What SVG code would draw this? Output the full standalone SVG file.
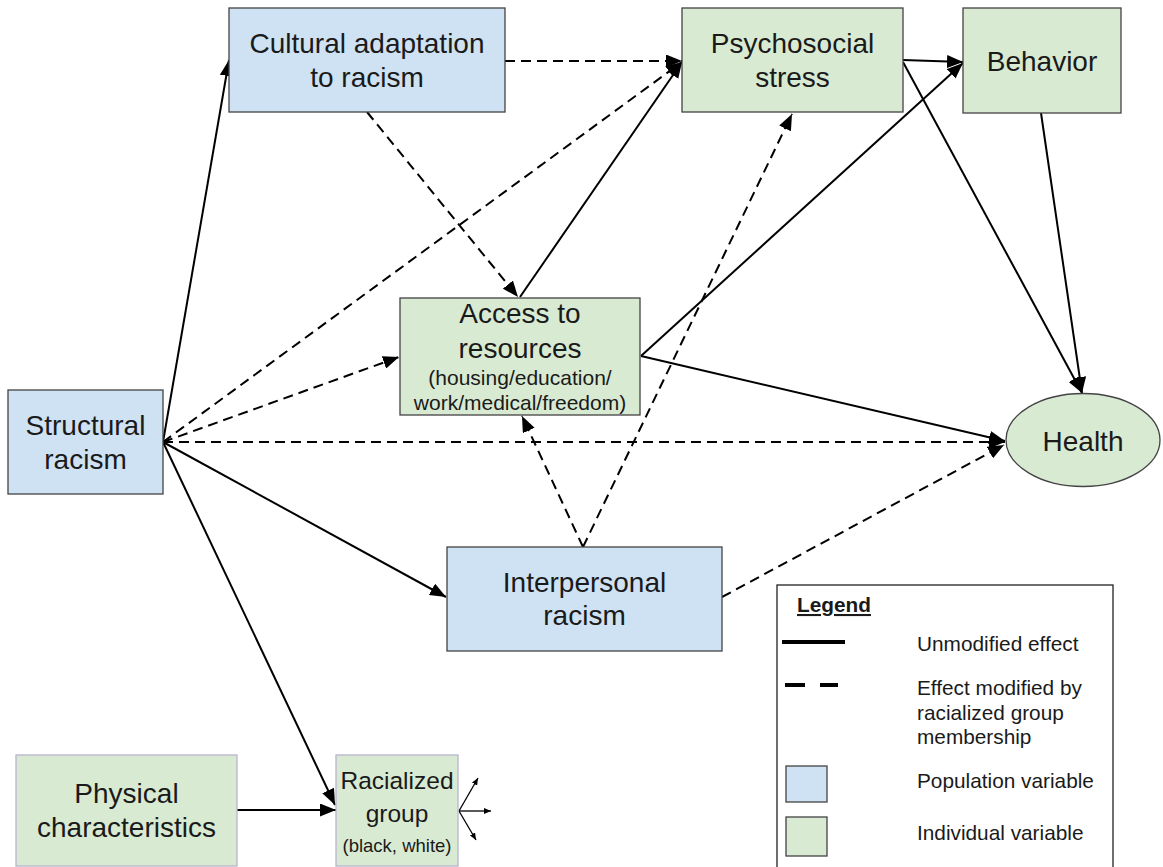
<svg xmlns="http://www.w3.org/2000/svg" width="1163" height="867" viewBox="0 0 1163 867">
<defs>
<style>
.txt{font-family:"Liberation Sans",Arial,sans-serif;fill:#1a1a1a;text-anchor:middle}
.big{font-size:28px}
.sm{font-size:21px}
.leg{font-family:"Liberation Sans",Arial,sans-serif;fill:#1a1a1a;font-size:20.8px}
.blue{fill:#cfe2f3;stroke:#434343;stroke-width:1.3}
.green{fill:#d9ead3;stroke:#434343;stroke-width:1.3}
.green2{fill:#d9ead3;stroke:#b8b4cc;stroke-width:1.3}
.c{stroke:#000;stroke-width:2;fill:none;marker-end:url(#ah)}
.d{stroke-dasharray:10 6}
.s{stroke:#000;stroke-width:1.3;fill:none;marker-end:url(#ahs)}
</style>
<marker id="ah" markerUnits="userSpaceOnUse" markerWidth="16" markerHeight="13" refX="16" refY="6.5" orient="auto">
<path d="M0,0 L16,6.5 L0,13 z" fill="#000"/>
</marker>
<marker id="ahs" markerUnits="userSpaceOnUse" markerWidth="7" markerHeight="6" refX="7" refY="3" orient="auto">
<path d="M0,0 L7,3 L0,6 z" fill="#000"/>
</marker>
</defs>
<rect width="1163" height="867" fill="#fff"/>

<g id="connectors">
<line class="c" x1="163" y1="442" x2="229" y2="60"/>
<line class="c d" x1="163" y1="442" x2="682" y2="62"/>
<line class="c d" x1="163" y1="442" x2="399" y2="357"/>
<line class="c d" x1="163" y1="442" x2="1005" y2="442"/>
<line class="c" x1="163" y1="442" x2="446" y2="597"/>
<line class="c" x1="163" y1="442" x2="335" y2="805"/>
<line class="c" x1="237" y1="810" x2="336" y2="810"/>
<line class="c d" x1="505" y1="61" x2="682" y2="61"/>
<line class="c d" x1="367" y1="112" x2="518" y2="297"/>
<line class="c" x1="520" y1="297" x2="682" y2="62"/>
<line class="c" x1="641" y1="356" x2="963" y2="63"/>
<line class="c" x1="641" y1="356" x2="1005" y2="441"/>
<line class="c" x1="903" y1="60" x2="963" y2="62"/>
<line class="c" x1="903" y1="62" x2="1082" y2="393"/>
<line class="c" x1="1041" y1="113" x2="1082" y2="393"/>
<line class="c d" x1="583" y1="547" x2="522" y2="416"/>
<line class="c d" x1="583" y1="547" x2="792" y2="114"/>
<line class="c d" x1="722" y1="597" x2="1004" y2="445"/>
<line class="s" x1="459" y1="811" x2="478" y2="778"/>
<line class="s" x1="459" y1="811" x2="491" y2="811"/>
<line class="s" x1="459" y1="811" x2="476" y2="840"/>
</g>

<g id="cultural">
<rect class="blue" x="229" y="8" width="276" height="104"/>
<text class="txt big" x="367" y="53">Cultural adaptation</text>
<text class="txt big" x="367" y="87">to racism</text>
</g>
<g id="psychosocial">
<rect class="green" x="682" y="8" width="221" height="104"/>
<text class="txt big" x="792.5" y="53">Psychosocial</text>
<text class="txt big" x="792.5" y="87">stress</text>
</g>
<g id="behavior">
<rect class="green" x="963" y="8" width="158" height="105"/>
<text class="txt big" x="1042" y="71">Behavior</text>
</g>
<g id="structural">
<rect class="blue" x="8" y="390" width="155" height="104"/>
<text class="txt big" x="85.5" y="435">Structural</text>
<text class="txt big" x="85.5" y="469">racism</text>
</g>
<g id="access">
<rect class="green" x="400" y="298" width="240" height="117"/>
<text class="txt big" x="520" y="323">Access to</text>
<text class="txt big" x="520" y="358">resources</text>
<text class="txt sm" x="520" y="385">(housing/education/</text>
<text class="txt sm" x="520" y="410">work/medical/freedom)</text>
</g>
<g id="health">
<ellipse cx="1083" cy="440" rx="77" ry="46.5" fill="#d9ead3" stroke="#434343" stroke-width="1.3"/>
<text class="txt big" x="1083" y="451">Health</text>
</g>
<g id="interpersonal">
<rect class="blue" x="447" y="547" width="275" height="104"/>
<text class="txt big" x="584.5" y="592">Interpersonal</text>
<text class="txt big" x="584.5" y="625">racism</text>
</g>
<g id="physical">
<rect class="green2" x="16" y="755" width="221" height="111"/>
<text class="txt big" x="126.5" y="803">Physical</text>
<text class="txt big" x="126.5" y="837">characteristics</text>
</g>
<g id="racialized">
<rect class="green2" x="336" y="755" width="122" height="111"/>
<text class="txt" font-size="24.5" x="397" y="789">Racialized</text>
<text class="txt" font-size="24.5" x="397" y="822">group</text>
<text class="txt" font-size="18.5" x="397" y="852">(black, white)</text>
</g>

<g id="legend">
<rect x="777" y="585" width="336" height="300" fill="#fff" stroke="#222" stroke-width="1.3"/>
<text class="leg" x="797" y="612" font-size="22" font-weight="bold" text-decoration="underline">Legend</text>
<line x1="782" y1="642" x2="845" y2="642" stroke="#000" stroke-width="4"/>
<line x1="785" y1="685" x2="805" y2="685" stroke="#000" stroke-width="4"/>
<line x1="820" y1="685" x2="838" y2="685" stroke="#000" stroke-width="4"/>
<rect class="blue" x="786" y="766" width="41" height="36"/>
<rect class="green" x="786" y="817" width="41" height="39"/>
<text class="leg" x="917" y="651">Unmodified effect</text>
<text class="leg" x="917" y="695">Effect modified by</text>
<text class="leg" x="917" y="720">racialized group</text>
<text class="leg" x="917" y="744">membership</text>
<text class="leg" x="917" y="788">Population variable</text>
<text class="leg" x="917" y="840">Individual variable</text>
</g>
</svg>
